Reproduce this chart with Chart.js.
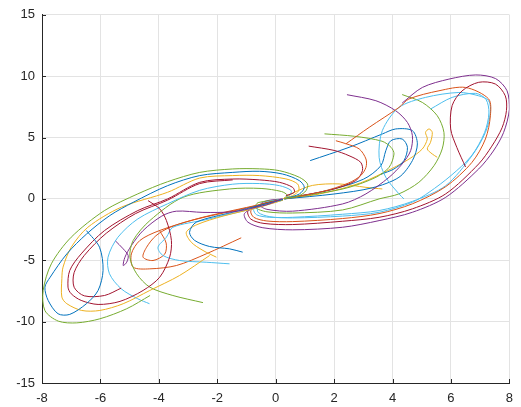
<!DOCTYPE html>
<html>
<head>
<meta charset="utf-8">
<script src="https://cdn.jsdelivr.net/npm/chart.js@4/dist/chart.umd.min.js"></script>
<style>
  html, body { margin: 0; padding: 0; background: #fff; }
</style>
</head>
<body>
<canvas id="chartContainer" width="521" height="407"></canvas>
<script>
// axis ticks
const xTicks = [-8, -6, -4, -2, 0, 2, 4, 6, 8];
const yTicks = [-15, -10, -5, 0, 5, 10, 15];

// MATLAB default colour order
const blue = "#0072BD", orange = "#D95319", yellow = "#EDB120", purple = "#7E2F8E",
      green = "#77AC30", lightBlue = "#4DBEEE", darkRed = "#A2142F";

// left lobe, outer curves
const greenOuter = [[0.3,0.02],[0.81,0.27],[1.04,0.68],[1.09,1.22],[0.81,1.76],[0.13,2.3],[-0.56,2.45],[-1.47,2.44],[-2.6,2.16],[-3.7,1.4],[-4.72,0.41],[-5.86,-0.95],[-7.0,-3.12],[-7.68,-5.29],[-7.96,-7.46],[-7.9,-9.1],[-7.44,-9.96],[-6.81,-10.1],[-6.02,-9.77],[-5.1,-8.95],[-4.3,-7.87]];
const blueOuter = [[0.35,0.05],[0.81,0.4],[0.98,0.94],[0.81,1.49],[0.23,2.03],[-0.56,2.25],[-1.47,2.16],[-2.6,1.9],[-3.7,1.08],[-4.88,-0.28],[-5.68,-1.36],[-6.47,-2.85],[-7.15,-4.48],[-7.72,-6.38],[-7.9,-7.19],[-7.79,-8.27],[-7.45,-9.36],[-7.05,-9.41],[-6.48,-8.54],[-6.08,-7.46],[-5.91,-5.83],[-6.03,-3.94],[-6.48,-2.58]];
const yellowOuter = [[0.3,0.1],[0.58,0.27],[0.79,0.68],[0.75,1.22],[0.35,1.63],[-0.56,1.9],[-1.47,1.9],[-2.6,1.7],[-3.7,0.54],[-5.29,-0.68],[-6.43,-2.31],[-7.0,-3.94],[-7.28,-5.56],[-7.32,-6.5],[-7.32,-8.0],[-7.15,-8.54],[-6.64,-9.09],[-6.02,-9.09],[-5.22,-8.54],[-4.31,-7.46],[-3.29,-6.24],[-2.26,-4.61]];
const redOuter = [[0.35,0.27],[0.64,0.54],[0.58,0.94],[0.13,1.35],[-0.56,1.55],[-1.47,1.62],[-2.6,1.35],[-3.7,0.0],[-4.72,-0.95],[-5.86,-2.58],[-6.66,-4.48],[-7.05,-5.83],[-7.11,-7.19],[-7.0,-7.73],[-6.66,-8.27],[-6.08,-8.6],[-5.33,-8.35],[-4.54,-7.46],[-3.97,-6.38],[-3.63,-4.75],[-3.57,-3.39],[-3.74,-1.77],[-3.97,-0.81],[-4.37,-0.14]];
const redShort = [[-1.47,1.55],[-2.6,1.25],[-3.7,-0.1],[-4.8,-1.2],[-5.8,-2.8],[-6.55,-4.6],[-6.9,-6.0],[-6.9,-7.2],[-6.55,-7.9],[-5.86,-7.87],[-5.29,-7.27]];
const lightBlueOuter = [[0.3,0.1],[0.47,0.27],[0.53,0.68],[0.13,1.08],[-0.56,1.25],[-1.47,1.2],[-2.6,0.7],[-3.7,-0.4],[-4.72,-1.63],[-5.4,-3.12],[-5.74,-4.75],[-5.69,-6.1],[-5.29,-7.32],[-4.72,-8.14],[-4.32,-8.54]];
const greenInner = [[0.3,0.05],[0.4,0.3],[0.2,0.6],[-0.5,0.85],[-1.58,0.81],[-3.17,0.13],[-4.31,-1.77],[-4.88,-3.39],[-4.99,-4.75],[-4.76,-6.1],[-4.31,-7.19],[-3.52,-7.87],[-2.49,-8.45]];
const purpleLeft = [[0.2,0.0],[-0.22,-0.41],[-0.67,-0.68],[-1.47,-1.05],[-2.49,-1.1],[-3.4,-1.0],[-3.9,-1.4],[-4.54,-2.58],[-4.94,-3.8],[-5.16,-4.75],[-5.22,-5.43],[-5.1,-5.16],[-5.05,-4.61],[-5.22,-4.07],[-5.5,-3.39]];

// left lobe, inner loops
const blueU = [[0.25,-0.05],[-0.5,-0.5],[-1.5,-1.1],[-2.72,-1.9],[-2.95,-2.72],[-2.77,-3.39],[-2.26,-3.88],[-1.58,-4.07],[-1.13,-4.34]];
const yellowU = [[0.25,-0.1],[-0.6,-0.7],[-1.8,-1.4],[-2.7,-2.1],[-3.06,-2.72],[-2.89,-3.53],[-2.49,-4.2],[-2.03,-4.75]];
const lightBlueU = [[0.25,-0.1],[-0.8,-0.8],[-2.4,-1.7],[-3.52,-2.31],[-3.74,-3.12],[-4.03,-3.94],[-3.86,-4.61],[-3.29,-5.02],[-2.38,-5.16],[-1.58,-5.29]];
const orangeLoopA = [[0.25,-0.05],[-1.0,-0.7],[-2.5,-1.5],[-3.6,-2.3],[-4.1,-3.0],[-4.42,-3.94],[-4.54,-4.75],[-4.2,-5.02],[-3.8,-4.5],[-3.75,-3.6],[-3.97,-2.6]];
const orangeLoopB = [[0.25,-0.05],[-1.2,-0.85],[-2.8,-1.7],[-4.0,-2.6],[-4.65,-3.39],[-4.94,-4.48],[-4.88,-5.56],[-4.31,-5.7],[-3.4,-5.43],[-2.38,-4.48],[-1.18,-3.17]];

// right lobe, outer curves
const purpleOuter = [[0.25,-0.05],[-0.6,-0.6],[-1.07,-1.2],[-0.95,-1.9],[-0.44,-2.35],[0.58,-2.52],[2.29,-2.31],[3.54,-1.77],[4.68,-1.09],[5.82,0.13],[6.95,2.44],[7.45,3.9],[7.8,5.4],[8.0,7.3],[7.92,8.81],[7.53,9.8],[6.85,10.1],[5.93,9.76],[5.02,9.08],[4.33,7.81]];
const redRight = [[0.25,-0.05],[-0.5,-0.45],[-0.95,-1.0],[-0.85,-1.65],[-0.4,-2.0],[0.58,-2.09],[2.29,-1.82],[3.54,-1.5],[4.68,-0.81],[5.82,0.41],[6.95,2.85],[7.4,4.3],[7.75,5.8],[7.9,7.2],[7.86,8.4],[7.52,9.36],[6.95,9.5],[6.38,8.8],[6.04,7.6],[5.99,5.7],[6.2,4.2],[6.5,2.6]];
const orangeRight = [[0.25,-0.05],[-0.45,-0.4],[-0.85,-0.95],[-0.75,-1.5],[-0.3,-1.8],[0.58,-1.85],[2.29,-1.6],[3.54,-1.2],[4.68,-0.4],[5.82,1.0],[6.72,2.98],[7.18,4.88],[7.35,6.78],[7.29,8.14],[6.5,9.08],[5.59,8.81],[4.56,8.14],[4.22,7.45],[3.2,5.83],[2.4,4.48]];
const orangeHook = [[2.06,4.74],[2.4,4.5],[2.86,4.07],[3.09,3.25],[3.09,2.57],[2.91,1.9],[2.5,1.3],[1.6,0.6],[0.3,0.0]];
const lightBlueRightA = [[0.25,-0.05],[-0.4,-0.35],[-0.75,-0.85],[-0.65,-1.3],[-0.2,-1.5],[0.58,-1.5],[2.29,-1.25],[3.54,-0.95],[4.68,-0.2],[5.82,1.08],[6.72,3.52],[7.18,5.42],[7.35,7.05],[7.29,8.0],[6.95,8.4],[6.27,8.67],[5.13,8.27],[4.22,7.45],[3.65,5.56],[3.54,3.39],[3.77,1.76],[4.22,0.41],[4.39,0.0]];
const lightBlueRightB = [[5.3,7.32],[6.04,8.27],[6.84,8.6],[7.2,8.1],[7.3,7.0],[7.15,5.4],[6.7,3.5],[6.0,1.9],[5.25,0.54],[4.68,-0.27],[3.54,-1.09],[2.29,-1.4],[0.58,-1.55],[-0.2,-1.45],[-0.6,-1.1],[-0.6,-0.6],[-0.2,-0.2],[0.25,-0.05]];
const greenRight = [[4.33,8.5],[5.02,7.86],[5.53,6.78],[5.76,5.42],[5.7,4.07],[5.42,2.71],[4.9,1.35],[4.22,0.41],[3.54,0.0],[2.29,-0.9],[0.58,-1.15],[-0.3,-1.05],[-0.7,-0.7],[-0.6,-0.3],[0.25,-0.05]];
const purpleRight = [[2.44,8.49],[3.43,8.0],[4.11,7.18],[4.51,6.23],[4.68,5.15],[4.62,3.93],[4.33,2.85],[3.88,1.76],[3.09,0.41],[2.29,-0.41],[0.58,-1.0],[-0.3,-0.85],[-0.55,-0.5],[-0.3,-0.15],[0.25,0.0]];

// right lobe, inner curves
const greenStart = [[1.67,5.3],[2.7,5.1],[3.64,4.7],[3.95,4.2],[4.05,3.66],[3.88,2.57],[3.43,1.76],[2.51,0.94],[1.5,0.45],[0.35,0.05]];
const redStart = [[1.13,4.3],[2.0,3.95],[2.51,3.52],[2.91,2.98],[2.97,2.3],[2.74,1.49],[1.9,0.75],[0.35,0.05]];
const blueStart = [[1.18,3.12],[2.51,4.2],[3.65,5.29],[4.11,5.7],[4.68,5.56],[4.85,4.48],[4.68,3.12],[4.22,1.76],[3.3,0.9],[2.0,0.4],[0.3,0.0]];
const blueLoop = [[0.3,0.0],[1.8,0.7],[3.0,1.6],[3.6,2.7],[3.77,3.93],[3.94,4.74],[4.33,4.88],[4.51,4.2],[4.39,3.12],[4.05,2.44],[3.6,2.0]];
const yellowBump = [[0.25,0.0],[0.6,0.5],[1.26,1.1],[2.17,1.22],[3.09,0.94],[3.65,0.81]];
const yellowLoop = [[0.3,0.0],[1.5,0.4],[2.9,1.3],[4.0,2.5],[4.6,3.3],[5.02,4.07],[5.19,4.88],[5.13,5.42],[5.25,5.7],[5.36,5.42],[5.3,4.61],[5.19,4.07],[5.36,3.66],[5.53,3.39]];

const curves = [
  [greenOuter, green], [blueOuter, blue], [yellowOuter, yellow], [redOuter, darkRed],
  [redShort, darkRed], [lightBlueOuter, lightBlue], [greenInner, green], [purpleLeft, purple],
  [blueU, blue], [yellowU, yellow], [lightBlueU, lightBlue], [orangeLoopA, orange], [orangeLoopB, orange],
  [purpleOuter, purple], [redRight, darkRed], [orangeRight, orange], [orangeHook, orange],
  [lightBlueRightA, lightBlue], [lightBlueRightB, lightBlue], [greenRight, green], [purpleRight, purple],
  [greenStart, green], [redStart, darkRed], [blueStart, blue], [blueLoop, blue],
  [yellowBump, yellow], [yellowLoop, yellow]
];

const datasets = curves.map(([pts, color]) => ({
  data: pts.map(p => ({ x: p[0], y: p[1] })),
  borderColor: color,
  borderWidth: 1,
  showLine: true,
  pointRadius: 0,
  tension: 0.3,
  fill: false,
}));

// MATLAB-style inward tick marks on the left and bottom axes
const innerTicks = {
  id: "innerTicks",
  afterDraw(chart) {
    const { ctx, chartArea: a, scales: { x, y } } = chart;
    ctx.save();
    ctx.strokeStyle = "#262626";
    ctx.lineWidth = 1;
    ctx.beginPath();
    xTicks.forEach(v => {
      const px = Math.round(x.getPixelForValue(v)) + 0.5;
      ctx.moveTo(px, a.bottom);
      ctx.lineTo(px, a.bottom - 4);
    });
    yTicks.forEach(v => {
      const py = Math.round(y.getPixelForValue(v)) + 0.5;
      ctx.moveTo(a.left, py);
      ctx.lineTo(a.left + 4, py);
    });
    ctx.stroke();
    ctx.restore();
  },
};

const ctx = document.getElementById("chartContainer");
const chart = new Chart(ctx, {
  type: "scatter",
  data: { datasets },
  options: {
    responsive: false,
    animation: false,
    events: [],
    layout: { autoPadding: false, padding: { top: 14, right: 10, left: 0, bottom: 0 } },
    plugins: { legend: { display: false }, tooltip: { enabled: false } },
    scales: {
      x: {
        type: "linear", min: -8, max: 8,
        afterBuildTicks: s => { s.ticks = xTicks.map(v => ({ value: v })); },
        afterFit: s => { s.height = 24; },
        grid: { color: "#e3e3e3", drawTicks: false },
        border: { display: true, color: "#262626", width: 1 },
        ticks: { padding: 8, color: "#262626", font: { family: "Liberation Sans, Arial", size: 13 } },
      },
      y: {
        type: "linear", min: -15, max: 15,
        afterBuildTicks: s => { s.ticks = yTicks.map(v => ({ value: v })); },
        afterFit: s => { s.width = 42; },
        grid: { color: "#e3e3e3", drawTicks: false },
        border: { display: true, color: "#262626", width: 1 },
        ticks: { padding: 7, color: "#262626", font: { family: "Liberation Sans, Arial", size: 13 } },
      },
    },
  },
  plugins: [innerTicks],
});
</script>
</body>
</html>
